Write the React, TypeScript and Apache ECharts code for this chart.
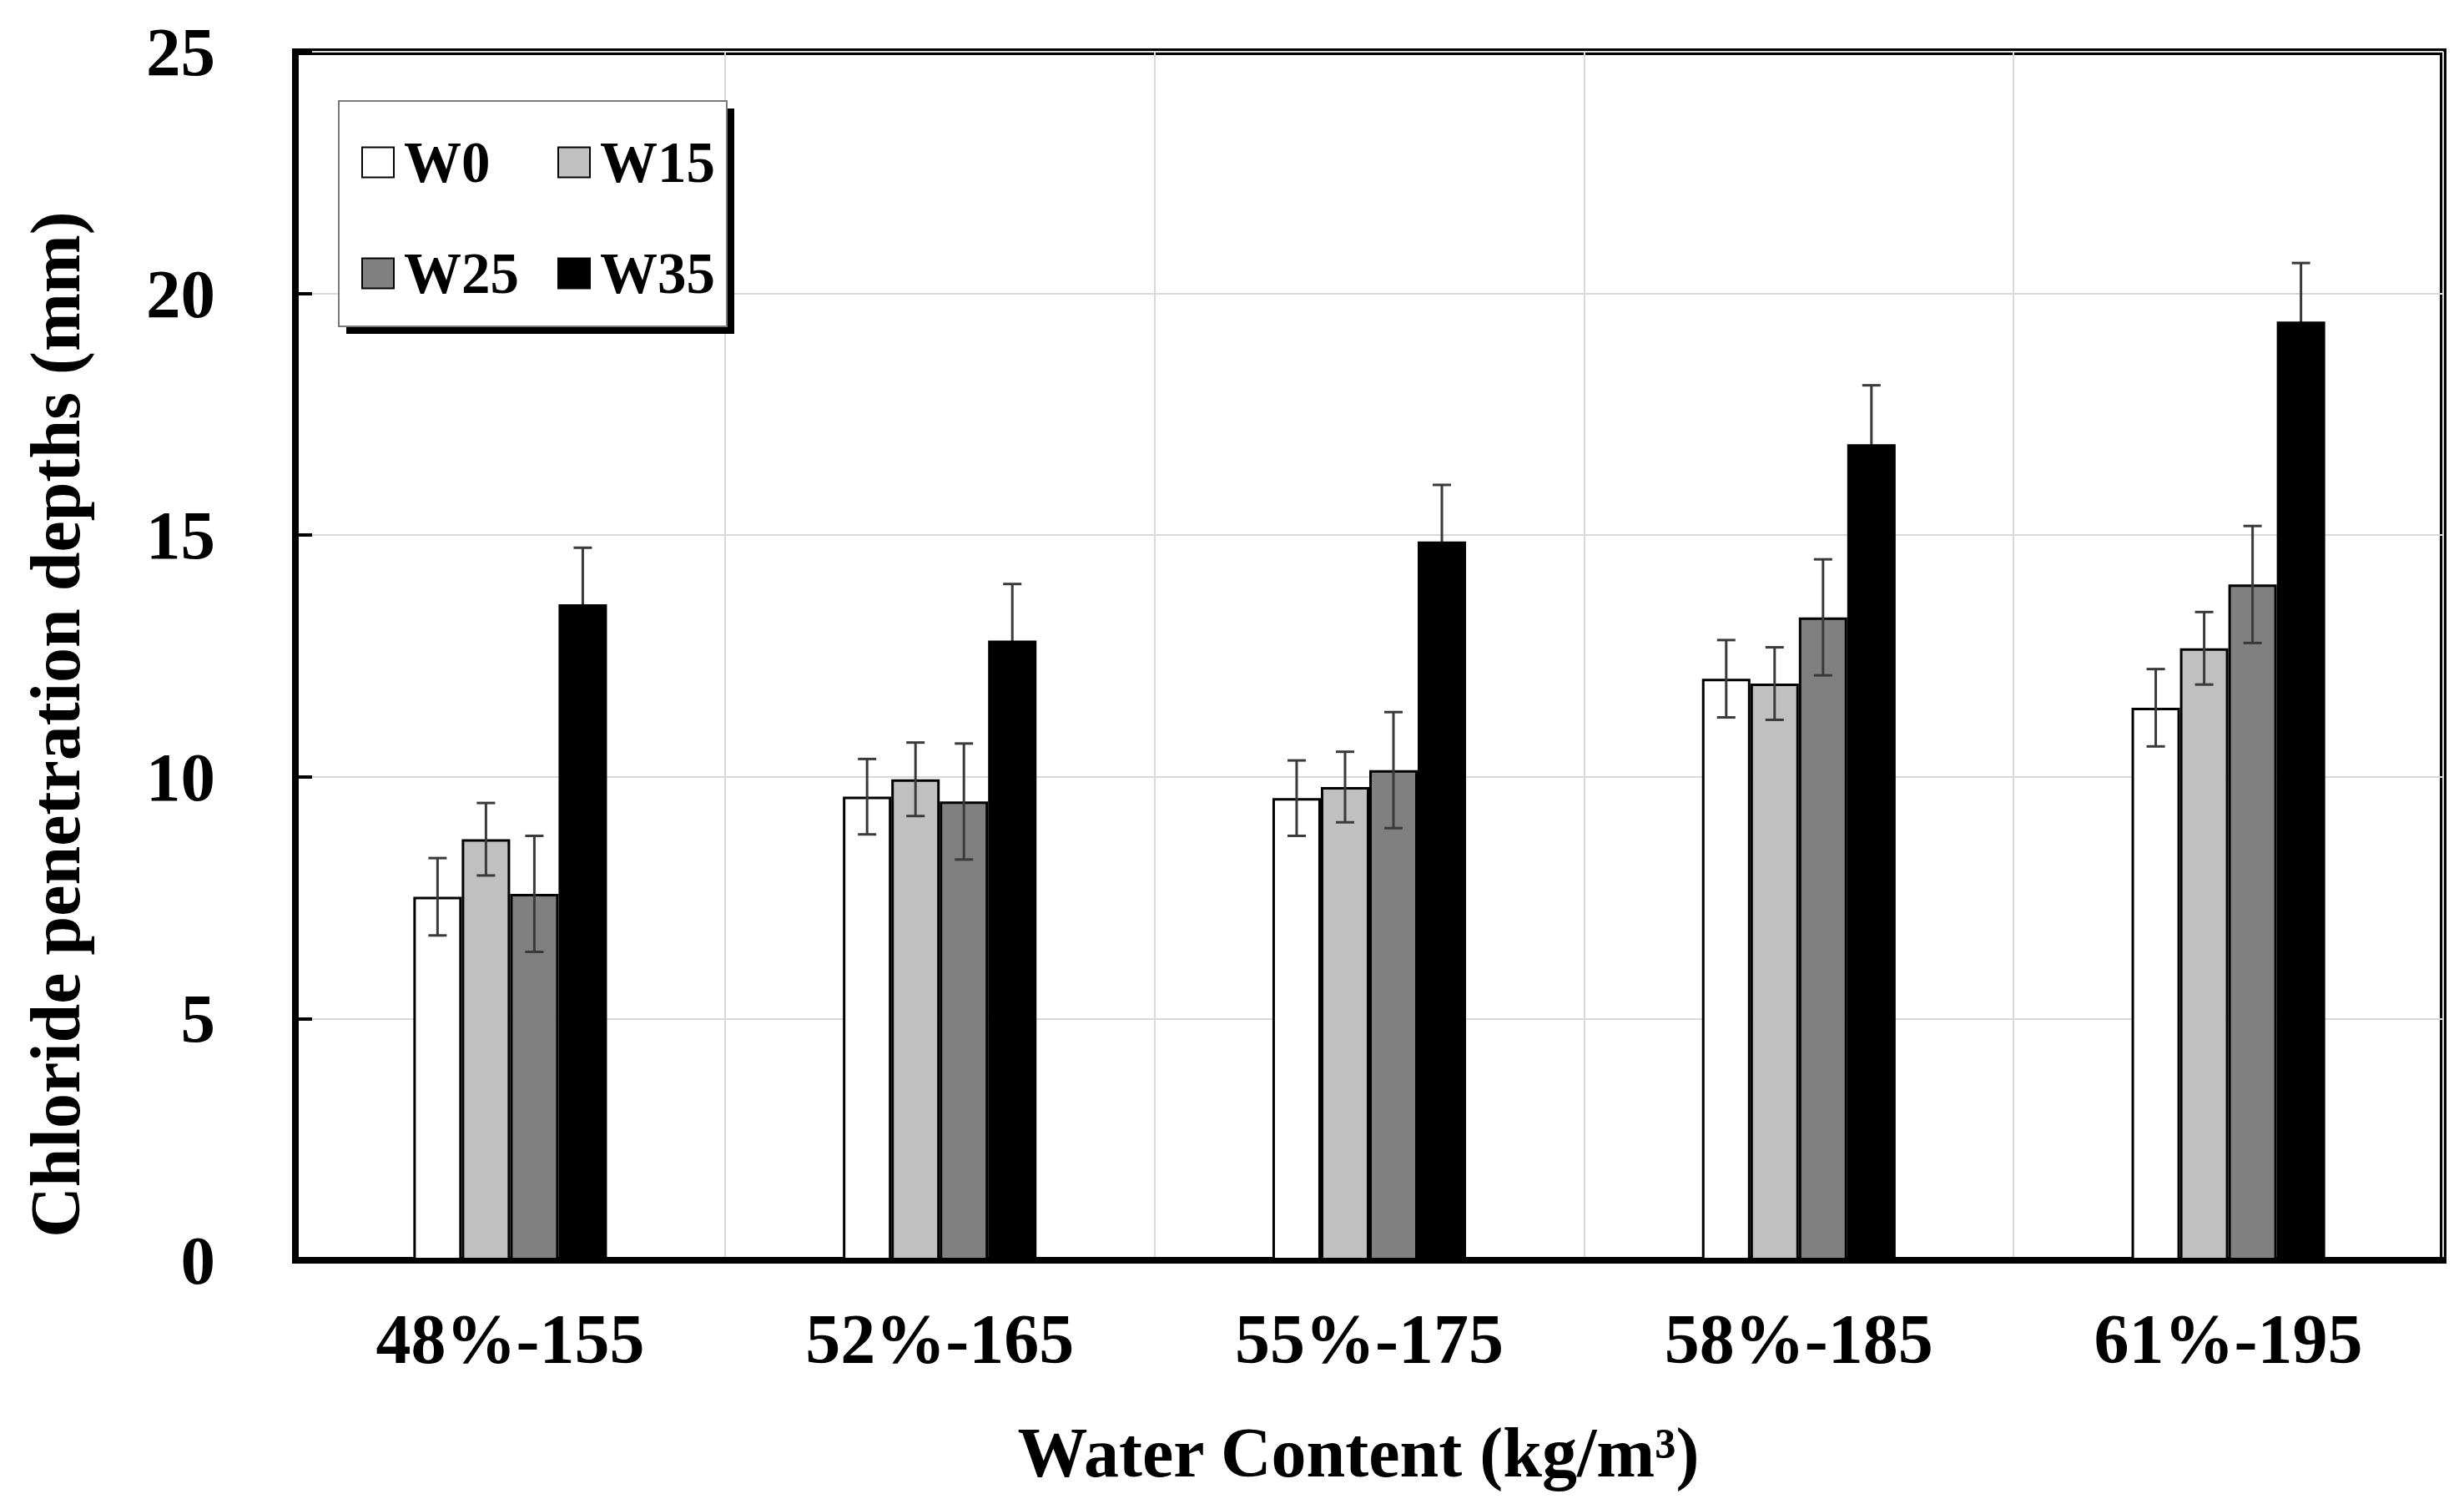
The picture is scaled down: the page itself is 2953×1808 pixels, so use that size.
import React, { useEffect, useRef } from "react";
import * as echarts from "echarts";

const categories = ["48%-155", "52%-165", "55%-175", "58%-185", "61%-195"];
const seriesNames = ["W0", "W15", "W25", "W35"];
const seriesColors = ["#ffffff", "#c0c0c0", "#808080", "#000000"];
const w0Values = [7.52, 9.59, 9.56, 12.03, 11.43];
const w15Values = [8.71, 9.95, 9.79, 11.93, 12.66];
const w25Values = [7.58, 9.49, 10.14, 13.3, 13.98];
const w35Values = [13.57, 12.82, 14.87, 16.88, 19.42];
const w0Errors = [0.8, 0.78, 0.78, 0.8, 0.8];
const w15Errors = [0.75, 0.76, 0.73, 0.75, 0.75];
const w25Errors = [1.2, 1.2, 1.2, 1.2, 1.21];
const w35Errors = [1.17, 1.17, 1.17, 1.22, 1.21];
const yTicks = { min: 0, max: 25, interval: 5 };

const FONT = "'Times New Roman', 'Liberation Serif', serif";
const BAR_FRAC = 0.1127;

export default function App() {
  const ref = useRef<HTMLDivElement>(null);
  useEffect(() => {
    document.body.style.margin = "0";
    const chart = echarts.init(ref.current!, null, { renderer: "svg" });
    const values = [w0Values, w15Values, w25Values, w35Values];
    const errors = [w0Errors, w15Errors, w25Errors, w35Errors];

    const barSeries = seriesNames.map((name, k) => ({
      name,
      type: "bar",
      data: values[k],
      barWidth: BAR_FRAC * 100 + "%",
      barGap: "0%",
      z: 2,
      itemStyle: { color: seriesColors[k], borderColor: "#000", borderWidth: 3 },
    }));

    const errSeries = seriesNames.map((name, k) => ({
      name: name + " error",
      type: "custom",
      z: k === 3 ? 1 : 3,
      encode: { x: 0, y: 1 },
      data: values[k].map((v, i) => [i, v, errors[k][i]]),
      renderItem: (params: any, api: any) => {
        const ci = api.value(0);
        const v = api.value(1);
        const e = api.value(2);
        const bw = api.size([1, 0])[0] * BAR_FRAC;
        const off = (k - 1.5) * bw;
        const top = api.coord([ci, v + e]);
        const bot = api.coord([ci, v - e]);
        const x = top[0] + off;
        const cap = 11;
        const style = { stroke: "#3a3a3a", lineWidth: 3 };
        return {
          type: "group",
          children: [
            { type: "line", shape: { x1: x, y1: top[1], x2: x, y2: bot[1] }, style },
            { type: "line", shape: { x1: x - cap, y1: top[1], x2: x + cap, y2: top[1] }, style },
            { type: "line", shape: { x1: x - cap, y1: bot[1], x2: x + cap, y2: bot[1] }, style },
          ],
        };
      },
    }));

    const legendCommon = {
      orient: "horizontal",
      left: 433,
      padding: 0,
      itemWidth: 38,
      itemHeight: 36,
      itemGap: 34,
      icon: "rect",
      selectedMode: false,
      z: 6,
      textStyle: {
        fontFamily: FONT,
        fontWeight: "bold",
        fontSize: 69,
        color: "#000",
        lineHeight: 36,
        width: 150,
        padding: [0, 0, 0, 7],
      },
    };

    chart.setOption({
      animation: false,
      backgroundColor: "#fff",
      grid: {
        left: 354,
        top: 62,
        right: 25,
        bottom: 298,
        show: true,
        borderColor: "#000",
        borderWidth: 8,
      },
      legend: [
        { ...legendCommon, top: 160, data: ["W0", "W15"] },
        { ...legendCommon, top: 293, data: ["W25", "W35"] },
      ],
      graphic: [
        { type: "rect", z: 4, shape: { x: 415, y: 130, width: 465, height: 270 }, style: { fill: "#000" } },
        {
          type: "rect",
          z: 5,
          shape: { x: 406, y: 121, width: 465, height: 270 },
          style: { fill: "#fff", stroke: "#7a7a7a", lineWidth: 2 },
        },
        {
          type: "text",
          z: 5,
          x: 66,
          y: 868,
          rotation: Math.PI / 2,
          style: {
            text: "Chloride penetration depths (mm)",
            fontFamily: FONT,
            fontWeight: "bold",
            fontSize: 84,
            fill: "#000",
            textAlign: "center",
            textVerticalAlign: "middle",
          },
        },
      ],
      xAxis: {
        type: "category",
        data: categories,
        name: "Water Content (kg/m³)",
        nameLocation: "middle",
        nameGap: 188,
        nameTextStyle: {
          fontFamily: FONT,
          fontWeight: "bold",
          fontSize: 84,
          color: "#000",
          padding: [0, 26, 0, 0],
        },
        axisLine: { lineStyle: { color: "#000", width: 8 } },
        axisTick: { inside: true, length: 22, lineStyle: { color: "#000", width: 4 } },
        axisLabel: { fontFamily: FONT, fontWeight: "bold", fontSize: 84, color: "#000", margin: 52 },
        splitLine: { show: true, lineStyle: { color: "#d9d9d9", width: 2 } },
      },
      yAxis: {
        type: "value",
        min: yTicks.min,
        max: yTicks.max,
        interval: yTicks.interval,
        axisLine: { show: true, lineStyle: { color: "#000", width: 8 } },
        axisTick: { show: true, inside: true, length: 20, lineStyle: { color: "#000", width: 4 } },
        axisLabel: { fontFamily: FONT, fontWeight: "bold", fontSize: 83, color: "#000", margin: 96 },
        splitLine: { show: true, lineStyle: { color: "#d9d9d9", width: 2 } },
      },
      series: [...barSeries, ...errSeries],
    });
    return () => chart.dispose();
  }, []);
  return <div ref={ref} style={{ width: 2953, height: 1808 }} />;
}
